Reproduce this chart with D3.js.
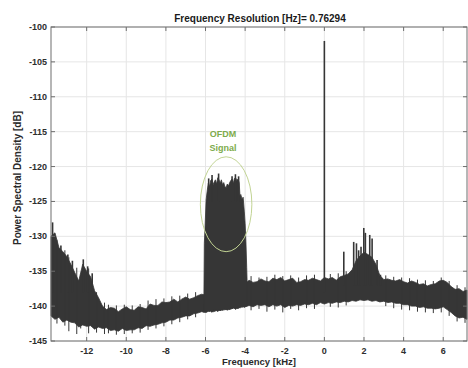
<!DOCTYPE html>
<html lang="en">
<head>
  <meta charset="utf-8">
  <title>PSD</title>
  <script src="https://d3js.org/d3.v7.min.js"></script>
  <style>
    body { margin:0; background:#fff; }
    svg text { font-family: "Liberation Sans", Arial, Helvetica, sans-serif; font-weight: bold; }
    .grid line { stroke:#e6e6e6; stroke-width:1; }
  </style>
</head>
<body>
<script>
var width = 468, height = 368;
var margin = { top:27, right:1, bottom:27, left:51 };

// noise floor, upper / lower envelope [dB] every 0.2 kHz
var floorFreq = [-13.8,-13.6,-13.4,-13.2,-13.0,-12.8,-12.6,-12.4,-12.2,-12.0,
  -11.8,-11.6,-11.4,-11.2,-11.0,-10.8,-10.6,-10.4,-10.2,-10.0,
  -9.8,-9.6,-9.4,-9.2,-9.0,-8.8,-8.6,-8.4,-8.2,-8.0,
  -7.8,-7.6,-7.4,-7.2,-7.0,-6.8,-6.6,-6.4,-6.2,-6.0,
  -5.8,-5.6,-5.4,-5.2,-5.0,-4.8,-4.6,-4.4,-4.2,-4.0,
  -3.8,-3.6,-3.4,-3.2,-3.0,-2.8,-2.6,-2.4,-2.2,-2.0,
  -1.8,-1.6,-1.4,-1.2,-1.0,-0.8,-0.6,-0.4,-0.2,0.0,
  0.2,0.4,0.6,0.8,1.0,1.2,1.4,1.6,1.8,2.0,
  2.2,2.4,2.6,2.8,3.0,3.2,3.4,3.6,3.8,4.0,
  4.2,4.4,4.6,4.8,5.0,5.2,5.4,5.6,5.8,6.0,
  6.2,6.4,6.6,6.8,7.0,7.2];
var floorHi = [-130.0,-129.5,-131.6,-132.2,-132.9,-134.0,-135.2,-136.4,-134.0,-135.0,
  -135.8,-137.8,-138.8,-140.0,-140.5,-140.2,-140.3,-140.8,-140.4,-140.1,
  -140.5,-140.6,-140.1,-140.2,-140.4,-139.7,-139.9,-139.9,-139.4,-139.5,
  -139.4,-139.0,-139.4,-139.0,-138.7,-139.0,-138.8,-138.5,-138.3,-138.4,
  -138.3,-138.2,-138.1,-138.0,-137.9,-137.8,-137.6,-137.4,-137.2,-136.8,
  -136.3,-136.6,-136.5,-136.1,-136.4,-136.5,-136.0,-136.2,-135.9,-136.4,
  -136.2,-136.0,-136.6,-136.5,-136.2,-136.3,-136.0,-136.2,-136.4,-135.9,
  -136.1,-135.9,-136.3,-135.8,-135.6,-135.4,-134.8,-133.5,-132.8,-132.3,
  -132.6,-133.0,-134.0,-135.6,-136.2,-136.1,-136.3,-136.4,-136.2,-136.5,
  -136.7,-136.4,-136.6,-136.9,-136.8,-137.1,-136.9,-136.8,-136.4,-136.3,
  -136.6,-137.2,-137.6,-137.5,-137.9,-137.7];
var floorLo = [-141.4,-141.9,-141.6,-142.3,-142.0,-142.3,-142.4,-143.0,-142.7,-142.9,
  -142.8,-143.3,-143.0,-143.2,-143.1,-143.5,-143.4,-143.6,-143.2,-143.5,
  -143.4,-143.4,-143.1,-143.2,-142.8,-142.9,-142.7,-142.6,-142.4,-142.3,
  -142.0,-142.0,-141.7,-141.6,-141.4,-141.4,-141.1,-141.0,-140.8,-140.9,
  -140.7,-140.8,-140.6,-140.6,-140.5,-140.5,-140.3,-140.3,-140.1,-140.1,
  -139.9,-140.1,-139.8,-139.9,-139.8,-140.1,-139.8,-140.0,-139.8,-140.2,
  -139.9,-140.0,-139.8,-139.9,-139.7,-139.8,-139.6,-139.8,-139.5,-139.7,
  -139.5,-139.6,-139.4,-139.5,-139.3,-139.4,-139.2,-139.3,-139.1,-139.2,
  -139.1,-139.3,-139.2,-139.4,-139.3,-139.5,-139.4,-139.6,-139.6,-139.8,
  -139.8,-140.0,-140.0,-140.2,-140.1,-140.3,-140.3,-140.4,-140.3,-140.1,
  -140.5,-140.9,-141.4,-141.7,-141.6,-141.9];

// OFDM band
var ofdmFreq = [-6.08,-6.06,-6.02,-5.97,-5.92,-5.86,-5.8,-5.74,-5.68,-5.62,
  -5.56,-5.5,-5.44,-5.38,-5.32,-5.26,-5.2,-5.14,-5.08,-5.02,
  -4.96,-4.9,-4.84,-4.78,-4.72,-4.66,-4.6,-4.54,-4.48,-4.42,
  -4.36,-4.3,-4.26,-4.22,-4.16,-4.1,-4.04,-4.0,-3.96,-3.92,-3.9];
var ofdmHi = [-138.3,-131.0,-128.5,-124.8,-123.6,-122.4,-122.9,-122.0,-121.8,-122.6,
  -122.2,-121.9,-122.5,-121.6,-121.9,-122.4,-121.9,-122.6,-122.3,-122.9,
  -123.0,-122.5,-122.8,-122.3,-122.0,-121.8,-122.4,-121.7,-121.6,-122.0,
  -121.8,-122.3,-124.2,-124.0,-124.6,-124.4,-126.5,-128.2,-130.8,-134.5,-136.5];
var ofdmLo = [-140.9,-140.8,-140.6,-140.9,-140.7,-140.5,-140.8,-140.6,-140.9,-140.5,
  -140.7,-140.4,-140.6,-140.8,-140.5,-140.7,-140.4,-140.6,-140.3,-140.5,
  -140.4,-140.6,-140.3,-140.5,-140.2,-140.4,-140.1,-140.3,-140.5,-140.2,
  -140.4,-140.1,-140.3,-140.0,-140.2,-140.0,-140.2,-139.9,-140.1,-139.8,-140.0];

// narrow peaks (tone at DC, tones near 2 kHz, left-edge and OFDM peaks)
var spikeFreq = [0, 0.98,1.48,1.62,1.73,1.85,1.99,2.07,2.29,2.41,2.66,2.83,
  -13.72,-13.3,-12.95,-12.72,-12.17,-11.95,-11.72,
  -5.84,-5.67,-5.34,-4.66,-4.49,-4.33];
var spikeTop = [-102, -132.2,-130.8,-131.0,-132.0,-131.5,-128.8,-129.5,-129.8,-130.3,-133.4,-135.5,
  -128.0,-131.3,-132.6,-133.5,-133.3,-134.3,-135.3,
  -121.7,-121.2,-121.0,-121.4,-121.1,-121.4];
var spikeBase = [-138, -137,-137,-137,-137,-137,-137,-137,-137,-137,-137,-137,
  -138,-138,-138,-138,-138,-138,-138,
  -125,-125,-125,-125,-125,-125];

// short ragged excursions of the noise floor
var grassFreq = [-13.5,-13.1,-12.9,-12.5,-12.3,-11.9,-11.5,-11.1,-10.9,-10.5,
  -10.1,-9.7,-9.3,-8.9,-8.5,-8.1,-7.7,-7.3,-6.9,-6.5,
  -3.7,-3.3,-2.9,-2.5,-2.1,-1.7,-1.3,-0.9,-0.5,0.3,
  0.7,1.1,3.1,3.5,3.9,4.3,4.7,5.1,5.5,5.9,6.3,6.7,7.1];
var grassTop = [-130.5,-132.0,-133.0,-134.5,-135.5,-134.6,-138.0,-139.5,-139.8,-139.9,
  -139.8,-139.9,-139.7,-139.2,-139.0,-138.9,-138.6,-138.5,-138.2,-138.0,
  -135.7,-135.9,-135.8,-135.5,-135.7,-135.6,-135.9,-135.6,-135.5,-135.4,
  -135.3,-135.0,-135.6,-135.8,-135.9,-136.0,-136.2,-136.3,-136.4,-135.9,-136.4,-137.0,-137.3];
var grassBot = [-142.5,-142.8,-143.6,-144.0,-143.2,-143.9,-143.8,-144.0,-143.9,-144.1,
  -144.0,-143.9,-143.8,-143.4,-143.2,-142.9,-142.6,-142.3,-141.9,-141.6,
  -140.6,-140.4,-140.8,-140.5,-140.9,-140.4,-140.6,-140.3,-140.4,-140.1,
  -140.2,-139.9,-140.0,-140.3,-140.5,-140.6,-140.8,-140.9,-141.0,-140.9,-141.4,-142.2,-142.4];

var xTicks = [-12,-10,-8,-6,-4,-2,0,2,4,6];
var yTicks = [-145,-140,-135,-130,-125,-120,-115,-110,-105,-100];

// annotation: ellipse centre / radii in data units
var noteCenter = [-4.96, -125.4];
var noteRadius = [1.30, 6.8];
var noteLines = ['OFDM', 'Signal'];
var noteY = [-115.8, -117.7];

var x = d3.scaleLinear().domain([-13.8, 7.2]).range([margin.left, width - margin.right]);
var y = d3.scaleLinear().domain([-145, -100]).range([height - margin.bottom, margin.top]);

var svg = d3.select('body').append('svg')
            .attr('width', width)
            .attr('height', height);

// grid
var grid = svg.append('g').attr('class', 'grid');
grid.selectAll('.gx').data(xTicks).enter().append('line')
    .attr('x1', d => x(d)).attr('x2', d => x(d))
    .attr('y1', y(-145)).attr('y2', y(-100));
grid.selectAll('.gy').data(yTicks).enter().append('line')
    .attr('y1', d => y(d)).attr('y2', d => y(d))
    .attr('x1', x(-13.8)).attr('x2', x(7.2));

var ink = '#363636';
var band = d3.area().x(d => x(d.f)).y0(d => y(d.lo)).y1(d => y(d.hi));

var floorData = floorFreq.map((f, i) => ({f:f, hi:floorHi[i], lo:floorLo[i]}));
var ofdmData = ofdmFreq.map((f, i) => ({f:f, hi:ofdmHi[i], lo:ofdmLo[i]}));

svg.append('path').datum(floorData)
   .attr('d', band).attr('fill', ink)
   .attr('stroke', ink).attr('stroke-width', 0.8);

svg.append('path').datum(ofdmData)
   .attr('d', band).attr('fill', ink)
   .attr('stroke', ink).attr('stroke-width', 0.8);

svg.selectAll('.grass').data(grassFreq).enter().append('line')
   .attr('class', 'grass')
   .attr('x1', d => x(d)).attr('x2', d => x(d))
   .attr('y1', (d, i) => y(grassTop[i]))
   .attr('y2', (d, i) => y(grassBot[i]))
   .attr('stroke', ink).attr('stroke-width', 1);

svg.selectAll('.spike').data(spikeFreq).enter().append('line')
   .attr('class', 'spike')
   .attr('x1', d => x(d)).attr('x2', d => x(d))
   .attr('y1', (d, i) => y(spikeTop[i]))
   .attr('y2', (d, i) => y(spikeBase[i]))
   .attr('stroke', ink)
   .attr('stroke-width', 1.6);

// annotation
svg.append('ellipse')
   .attr('cx', x(noteCenter[0])).attr('cy', y(noteCenter[1]))
   .attr('rx', x(noteCenter[0] + noteRadius[0]) - x(noteCenter[0]))
   .attr('ry', y(noteCenter[1]) - y(noteCenter[1] + noteRadius[1]))
   .attr('fill', 'none').attr('stroke', '#c2d494').attr('stroke-width', 1);

svg.selectAll('.note').data(noteLines).enter().append('text')
   .attr('x', x(noteCenter[0]) - 3)
   .attr('y', (d, i) => y(noteY[i]))
   .attr('text-anchor', 'middle')
   .attr('font-size', 9)
   .attr('fill', '#7dab4c')
   .text(d => d);

// axes box with inward ticks
var axisColor = '#6e6e6e';
var tl = 4;
var box = svg.append('g');
box.append('rect')
   .attr('x', x(-13.8)).attr('y', y(-100))
   .attr('width', x(7.2) - x(-13.8)).attr('height', y(-145) - y(-100))
   .attr('fill', 'none').attr('stroke', axisColor).attr('stroke-width', 1);

xTicks.forEach(function(t) {
  box.append('line').attr('x1', x(t)).attr('x2', x(t))
     .attr('y1', y(-145)).attr('y2', y(-145) - tl).attr('stroke', axisColor);
  box.append('line').attr('x1', x(t)).attr('x2', x(t))
     .attr('y1', y(-100)).attr('y2', y(-100) + tl).attr('stroke', axisColor);
});
yTicks.forEach(function(t) {
  box.append('line').attr('y1', y(t)).attr('y2', y(t))
     .attr('x1', x(-13.8)).attr('x2', x(-13.8) + tl).attr('stroke', axisColor);
  box.append('line').attr('y1', y(t)).attr('y2', y(t))
     .attr('x1', x(7.2)).attr('x2', x(7.2) - tl).attr('stroke', axisColor);
});

svg.selectAll('.xl').data(xTicks).enter().append('text')
   .attr('x', d => x(d)).attr('y', y(-145) + 13)
   .attr('text-anchor', 'middle').attr('font-size', 9).attr('fill', '#2e2e2e')
   .text(d => d);

svg.selectAll('.yl').data(yTicks).enter().append('text')
   .attr('x', x(-13.8) - 4).attr('y', d => y(d) + 3)
   .attr('text-anchor', 'end').attr('font-size', 9).attr('fill', '#2e2e2e')
   .text(d => d);

svg.append('text')
   .attr('x', 260).attr('y', 22)
   .attr('text-anchor', 'middle').attr('font-size', 10).attr('fill', '#1a1a1a')
   .text('Frequency Resolution [Hz]= 0.76294');

svg.append('text')
   .attr('x', 259).attr('y', 365)
   .attr('text-anchor', 'middle').attr('font-size', 9.5).attr('fill', '#2a2a2a')
   .text('Frequency [kHz]');

svg.append('text')
   .attr('transform', 'translate(21,178) rotate(-90)')
   .attr('text-anchor', 'middle').attr('font-size', 10).attr('fill', '#2a2a2a')
   .text('Power Spectral Density [dB]');
</script>
</body>
</html>
